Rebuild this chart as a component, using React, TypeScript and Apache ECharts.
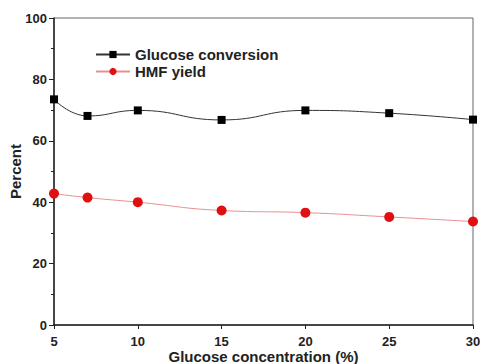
import React, { useEffect, useRef } from "react";
import * as echarts from "echarts";

const concentrations = [5, 7, 10, 15, 20, 25, 30];
const glucoseConversion = [73.5, 68.1, 69.9, 66.8, 69.9, 69.0, 66.9];
const hmfYield = [42.8, 41.5, 40.0, 37.3, 36.6, 35.2, 33.7];
const seriesNames = ["Glucose conversion", "HMF yield"];

const FONT = "Liberation Sans, Arial, sans-serif";

export default function App() {
  const ref = useRef<HTMLDivElement>(null);

  useEffect(() => {
    if (!ref.current) return;
    const chart = echarts.init(ref.current, undefined, { renderer: "svg" });
    const pairs = (ys: number[]) => concentrations.map((x, i) => [x, ys[i]]);
    chart.setOption({
      animation: false,
      backgroundColor: "#ffffff",
      grid: {
        left: 54,
        right: 7,
        top: 18,
        bottom: 39,
        outerBoundsMode: "none",
        containLabel: false,
        show: true,
        borderColor: "#666",
        borderWidth: 1,
      },
      legend: {
        left: 90,
        top: 42,
        orient: "vertical",
        itemWidth: 34,
        itemHeight: 9,
        itemGap: 2,
        textStyle: { fontFamily: FONT, fontWeight: "bold", fontSize: 15, color: "#222" },
        data: seriesNames,
      },
      xAxis: {
        type: "value",
        min: 5,
        max: 30,
        interval: 5,
        name: "Glucose concentration (%)",
        nameLocation: "middle",
        nameGap: 24,
        nameMoveOverlap: false,
        nameTextStyle: { fontFamily: FONT, fontWeight: "bold", fontSize: 15, color: "#222" },
        axisLine: { show: true, lineStyle: { color: "#222", width: 1.5 } },
        axisTick: { show: true, inside: false, length: 4, lineStyle: { color: "#222" } },
        axisLabel: { fontFamily: FONT, fontWeight: "bold", fontSize: 13, color: "#222", margin: 10 },
        splitLine: { show: false },
      },
      yAxis: {
        type: "value",
        min: 0,
        max: 100,
        interval: 20,
        name: "Percent",
        nameLocation: "middle",
        nameGap: 31,
        nameMoveOverlap: false,
        nameTextStyle: { fontFamily: FONT, fontWeight: "bold", fontSize: 15, color: "#222" },
        axisLine: { show: true, lineStyle: { color: "#222", width: 1.5 } },
        axisTick: { show: true, inside: false, length: 5, lineStyle: { color: "#222" } },
        minorTick: { show: true, splitNumber: 2, length: 3, lineStyle: { color: "#222" } },
        axisLabel: { fontFamily: FONT, fontWeight: "bold", fontSize: 13, color: "#222", margin: 7 },
        splitLine: { show: false },
      },
      series: [
        {
          name: seriesNames[0],
          type: "line",
          data: pairs(glucoseConversion),
          smooth: 0.5,
          symbol: "rect",
          symbolSize: 8,
          itemStyle: { color: "#000" },
          lineStyle: { color: "#333", width: 1 },
        },
        {
          name: seriesNames[1],
          type: "line",
          data: pairs(hmfYield),
          smooth: 0.5,
          symbol: "circle",
          symbolSize: 10,
          itemStyle: { color: "#e01010" },
          lineStyle: { color: "#e89090", width: 1 },
        },
      ],
    });
    return () => chart.dispose();
  }, []);

  return (
    <div
      ref={ref}
      style={{ position: "fixed", left: 0, top: 0, width: 480, height: 364 }}
    />
  );
}
